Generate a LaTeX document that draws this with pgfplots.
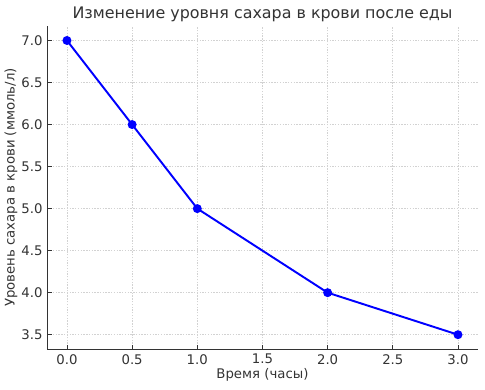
\documentclass[border=0pt]{standalone}
\usepackage{pgfplots}
\pgfplotsset{compat=1.18}
\usepackage{fontspec}
\setmainfont{DejaVu Sans}
\definecolor{txt}{HTML}{333333}
\begin{document}
\begin{tikzpicture}
\begin{axis}[
  scale only axis,
  width=311pt, height=234pt,
  xmin=-0.15, xmax=3.15,
  ymin=3.325, ymax=7.175,
  xtick={0,0.5,...,3},
  ytick={3.5,4,...,7},
  axis x line*=bottom, axis y line*=left,
  xticklabel style={/pgf/number format/.cd,fixed,fixed zerofill,precision=1},
  yticklabel style={/pgf/number format/.cd,fixed,fixed zerofill,precision=1},
  /pgf/number format/assume math mode=true,
  tick label style={font=\fontsize{9.6}{11}\selectfont, text=txt},
  label style={font=\fontsize{9.6}{11}\selectfont, text=txt},
  title style={font=\fontsize{11.5}{13}\selectfont, text=txt, yshift=-7pt},
  title={Изменение уровня сахара в крови после еды},
  xlabel={Время (часы)},
  ylabel={Уровень сахара в крови (ммоль/л)},
  grid=major,
  major grid style={dash pattern=on 1pt off 1pt, gray!35, line width=0.5pt},
  tick align=inside,
  major tick length=3pt,
  tick style={txt, line width=0.6pt},
  axis line style={txt, line width=0.8pt, -},
  xlabel style={yshift=4pt},
  ylabel style={yshift=-4pt},
]
\addplot[blue, line width=1.4pt, mark=*, mark size=2.5pt, mark options={fill=blue}]
coordinates {(0,7.0) (0.5,6.0) (1,5.0) (2,4.0) (3,3.5)};
\end{axis}
\path (current bounding box.south east) ++(5pt,-3pt);
\path (current bounding box.north west) ++(0pt,2pt);
\end{tikzpicture}
\end{document}
